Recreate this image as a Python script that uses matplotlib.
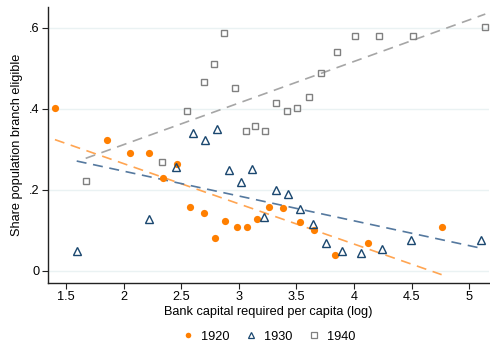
import numpy as np
import matplotlib as mpl
mpl.use('Agg')
import matplotlib.pyplot as plt
from matplotlib.lines import Line2D

plt.rcParams['font.family'] = ['Liberation Sans', 'DejaVu Sans']

# data (x = log bank capital per capita, y = share eligible)
x_1920 = [1.404, 1.853, 2.056, 2.220, 2.345, 2.466, 2.576, 2.698, 2.796, 2.883,
          2.982, 3.069, 3.155, 3.262, 3.386, 3.531, 3.655, 3.835, 4.119, 4.761]
y_1920 = [0.402, 0.324, 0.291, 0.291, 0.230, 0.264, 0.157, 0.142, 0.081, 0.122,
          0.108, 0.108, 0.128, 0.157, 0.155, 0.121, 0.100, 0.040, 0.068, 0.109]

x_1930 = [1.593, 2.220, 2.452, 2.605, 2.707, 2.811, 2.918, 3.017, 3.117, 3.219,
          3.323, 3.424, 3.531, 3.647, 3.757, 3.893, 4.058, 4.246, 4.492, 5.100]
y_1930 = [0.049, 0.128, 0.255, 0.341, 0.322, 0.349, 0.249, 0.218, 0.250, 0.133,
          0.199, 0.189, 0.153, 0.115, 0.068, 0.049, 0.043, 0.054, 0.075, 0.076]

x_1940 = [1.671, 2.336, 2.553, 2.695, 2.787, 2.874, 2.964, 3.063, 3.141, 3.230,
          3.323, 3.416, 3.508, 3.609, 3.714, 3.853, 4.011, 4.217, 4.509, 5.140]
y_1940 = [0.222, 0.268, 0.394, 0.467, 0.510, 0.586, 0.452, 0.346, 0.358, 0.346,
          0.413, 0.395, 0.403, 0.429, 0.489, 0.539, 0.580, 0.580, 0.579, 0.603]

xticks = [1.5, 2, 2.5, 3, 3.5, 4, 4.5, 5]
xtick_labels = ['1.5', '2', '2.5', '3', '3.5', '4', '4.5', '5']
yticks = [0, 0.2, 0.4, 0.6]
ytick_labels = ['0', '.2', '.4', '.6']

series = [
    ('1920', x_1920, y_1920, 'o', '#ff7f00', 'none', '#ffa552', 5.2),
    ('1930', x_1930, y_1930, '^', 'none', '#1a476f', '#55799f', 5.5),
    ('1940', x_1940, y_1940, 's', 'none', '#808080', '#a6a6a6', 5.0),
]

fs = 9.2

fig = plt.figure(figsize=(4.9, 3.43), dpi=100)
ax = fig.add_axes([0.0973, 0.1758, 0.9006, 0.8047])

for y in yticks:
    ax.axhline(y, color='#eaf2f3', lw=1.0, zorder=0)

handles = []
for name, xs, ys, m, fc, ec, lc, ms in series:
    xs = np.array(xs)
    ys = np.array(ys)
    if m == 'o':
        ax.plot(xs, ys, m, ms=ms, mfc=fc, mec=fc, mew=0, ls='none', zorder=3)
    else:
        ax.plot(xs, ys, m, ms=ms, mfc='none', mec=ec, mew=1.0, ls='none', zorder=3)
    # linear fit over each year's range
    b, a = np.polyfit(xs, ys, 1)
    xx = np.array([xs.min(), xs.max()])
    ax.plot(xx, a + b * xx, color=lc, lw=1.2, ls=(0, (6, 4)), zorder=2)
    if m == 'o':
        handles.append(Line2D([], [], marker=m, ls='none', ms=4, mfc=fc, mec=fc, mew=0, label=name))
    else:
        handles.append(Line2D([], [], marker=m, ls='none', ms=4, mfc='none', mec=ec, mew=0.9, label=name))

ax.set_xlim(1.341, 5.172)
ax.set_ylim(-0.0296, 0.652)
ax.set_xticks(xticks)
ax.set_xticklabels(xtick_labels)
ax.set_yticks(yticks)
ax.set_yticklabels(ytick_labels)
ax.tick_params(labelsize=fs, length=4, width=0.8, color='#222222', pad=2)
for s in ['top', 'right']:
    ax.spines[s].set_visible(False)
for s in ['left', 'bottom']:
    ax.spines[s].set_linewidth(1.0)
    ax.spines[s].set_color('#222222')

ax.set_xlabel('Bank capital required per capita (log)', fontsize=fs, labelpad=2)
ax.set_ylabel('Share population branch eligible', fontsize=fs, labelpad=4)

fig.legend(handles=handles, loc='center', bbox_to_anchor=(0.548, 0.018), ncol=3,
           frameon=False, fontsize=fs, handletextpad=0.5, columnspacing=1.2,
           handlelength=1.0)

fig.savefig('out.png', dpi=100)
